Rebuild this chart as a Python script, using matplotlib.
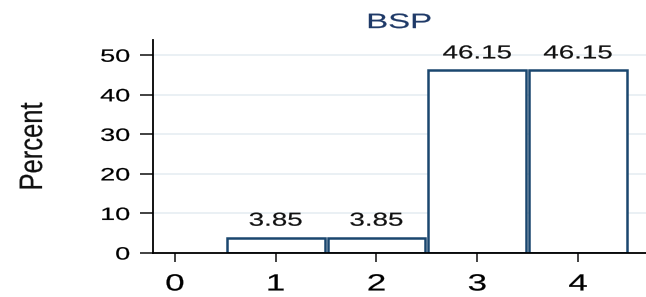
import matplotlib
matplotlib.use("Agg")
import matplotlib.pyplot as plt
from matplotlib.patheffects import AbstractPathEffect
from matplotlib.transforms import Affine2D

categories = [1, 2, 3, 4]
percent = [3.85, 3.85, 46.15, 46.15]
bar_labels = ["3.85", "3.85", "46.15", "46.15"]
xticks = [0, 1, 2, 3, 4]
yticks = [0, 10, 20, 30, 40, 50]
title = "BSP"
ylabel = "Percent"


class Stretch(AbstractPathEffect):
    """Draw text scaled along its own x (sx) / y (sy) axes around an anchor."""
    def __init__(self, sx=1.0, sy=1.0, anchor="center", stroke=0.15):
        super().__init__()
        self.sx, self.sy, self.anchor, self.stroke = sx, sy, anchor, stroke

    def draw_path(self, renderer, gc, tpath, affine, rgbFace=None):
        ext = tpath.get_extents()
        if self.anchor == "left":
            a = ext.x0
        elif self.anchor == "right":
            a = ext.x1
        else:
            a = 0.5 * (ext.x0 + ext.x1)
        t = Affine2D().translate(-a, 0).scale(self.sx, self.sy).translate(a, 0)
        gc0 = renderer.new_gc()
        gc0.copy_properties(gc)
        gc0.set_linewidth(self.stroke)
        if rgbFace is not None:
            gc0.set_foreground(rgbFace)
        renderer.draw_path(gc0, tpath, t + affine, rgbFace)
        gc0.restore()


navy = "#1a476f"
FONT = "Liberation Sans"
fig = plt.figure(figsize=(6.46, 2.97), dpi=100)
ax = fig.add_axes([153/646, 1-253/297, 1-153/646, (253-40)/297])
ax.set_xlim(-0.218, 4.675)
ax.set_ylim(0, 53.85)

for y in yticks[1:]:
    ax.axhline(y, color="#e6edf2", lw=1.2, zorder=0)

ax.bar(categories, percent, width=0.97, facecolor="white", edgecolor=navy, lw=1.8, zorder=2)
for x, v, t in zip(categories, percent, bar_labels):
    ax.text(x, v + 3.05, t, ha="center", va="baseline", fontsize=13.5, family=FONT,
            color="#111111", path_effects=[Stretch(sx=1.48)])

ax.set_xticks(xticks)
ax.set_xticklabels([str(t) for t in xticks], fontsize=16.8, family=FONT)
ax.set_yticks(yticks)
ax.set_yticklabels([str(t) for t in yticks], fontsize=12.8, family=FONT)
ax.tick_params(axis="y", length=9.4, width=1.3, color="#333333", pad=7.2)
ax.tick_params(axis="x", length=6.5, width=1.3, color="#333333", pad=7.5)
for lab in ax.get_xticklabels():
    lab.set_path_effects([Stretch(sx=1.5)])
for lab in ax.get_yticklabels():
    lab.set_path_effects([Stretch(sx=1.52, anchor="right")])

for s in ["top", "right"]:
    ax.spines[s].set_visible(False)
ax.spines["left"].set_linewidth(1.3)
ax.spines["bottom"].set_linewidth(1.3)

ax.set_title(title, fontsize=15, color="#1f3a68", family=FONT, pad=8.6,
             path_effects=[Stretch(sx=1.58)])
fig.text(42/646, 1-146.5/297, ylabel, rotation=90, rotation_mode="anchor",
         ha="center", va="baseline", fontsize=18.4, family=FONT, color="#111111",
         path_effects=[Stretch(sy=1.27)])

fig.savefig("out.png", dpi=100)
